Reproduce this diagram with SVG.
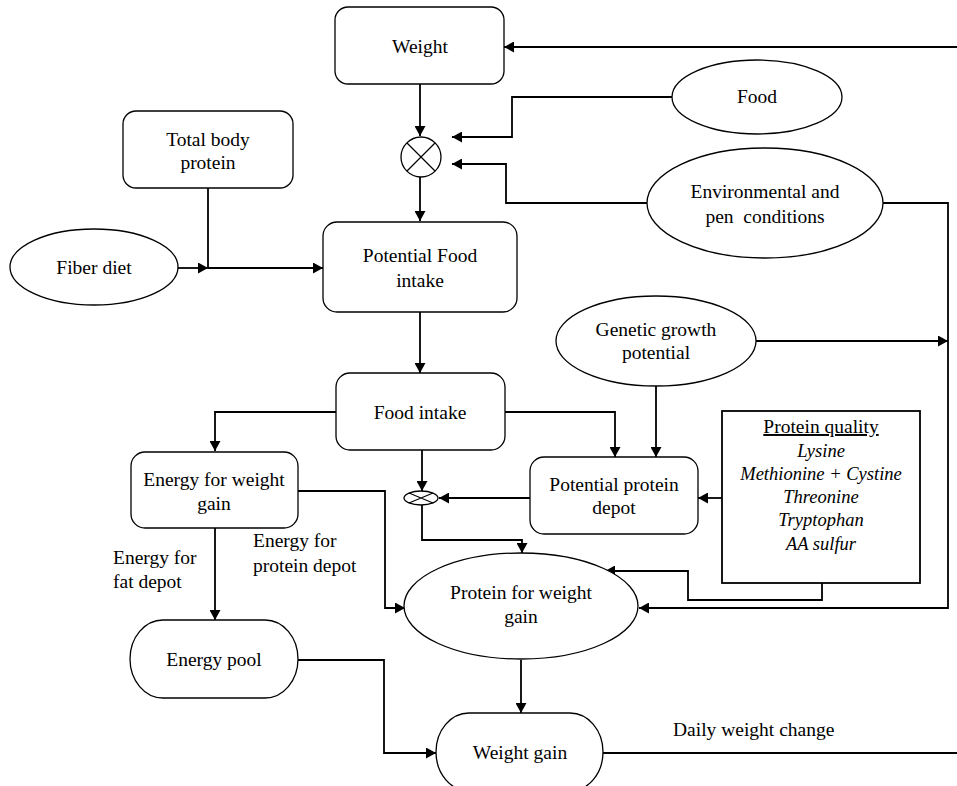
<svg xmlns="http://www.w3.org/2000/svg" width="957" height="786" viewBox="0 0 957 786">
<defs>
<marker id="ah" markerUnits="userSpaceOnUse" markerWidth="11" markerHeight="11" refX="10" refY="5.5" orient="auto">
<path d="M0,0 L10,5.5 L0,11 z" fill="#000"/>
</marker>
<style>
.n{fill:#fff;stroke:#000;stroke-width:1.3}
.c{fill:none;stroke:#000;stroke-width:1.8}
.a{marker-end:url(#ah)}
text{font-family:"Liberation Serif","Times New Roman",serif;font-size:19.5px;fill:#000}
.m{text-anchor:middle}
.i{font-style:italic;font-size:18.5px;text-anchor:middle}
</style>
</defs>
<rect width="957" height="786" fill="#fff"/>
<g id="connectors">
<path class="c a" d="M957,47 L504,47"/>
<path class="c a" d="M420,84 L420,136"/>
<path class="c a" d="M672,97 L512,97 L512,137 L452,137"/>
<path class="c a" d="M647,203 L506,203 L506,164 L452,164"/>
<path class="c a" d="M420,177 L420,221"/>
<path class="c" d="M208,188 L208,268"/>
<path class="c a" d="M178,268 L208,268"/>
<path class="c a" d="M208,268 L323,268"/>
<path class="c a" d="M420,312 L420,373"/>
<path class="c a" d="M336,412 L215,412 L215,451"/>
<path class="c a" d="M505,412 L615,412 L615,457"/>
<path class="c a" d="M422,450 L422,491"/>
<path class="c a" d="M656,385 L656,457"/>
<path class="c a" d="M756,341 L948,341"/>
<path class="c a" d="M883,203 L948,203 L948,608 L639,608"/>
<path class="c a" d="M722,498 L698,498"/>
<path class="c a" d="M822,583 L822,600 L688,600 L688,571 L605,571"/>
<path class="c a" d="M530,498 L439,498"/>
<path class="c a" d="M422,505 L422,540 L522,540 L522,553"/>
<path class="c a" d="M298,491 L385,491 L385,608 L405,608"/>
<path class="c a" d="M215,528 L215,620"/>
<path class="c a" d="M298,660 L384,660 L384,753 L436,753"/>
<path class="c a" d="M521,660 L521,713"/>
<path class="c" d="M603,753 L957,753"/>
</g>
<g id="weight"><rect class="n" x="335" y="7" width="169" height="77" rx="13"/><text class="m" x="420" y="53">Weight</text></g>
<g id="mult1"><circle class="n" cx="421" cy="157" r="20"/><path d="M407,143 L435,171 M435,143 L407,171" stroke="#000" stroke-width="1.2"/></g>
<g id="food"><ellipse class="n" cx="757" cy="97" rx="85" ry="37"/><text class="m" x="757" y="103">Food</text></g>
<g id="env"><ellipse class="n" cx="765" cy="203" rx="118" ry="55"/><text class="m" x="765" y="198">Environmental and</text><text class="m" x="765" y="223" xml:space="preserve">pen  conditions</text></g>
<g id="tbp"><rect class="n" x="123" y="111" width="170" height="77" rx="13"/><text class="m" x="208" y="146">Total body</text><text class="m" x="208" y="169">protein</text></g>
<g id="fiber"><ellipse class="n" cx="94" cy="267" rx="84" ry="38"/><text class="m" x="94" y="274">Fiber diet</text></g>
<g id="pfi"><rect class="n" x="323" y="222" width="194" height="90" rx="14"/><text class="m" x="420" y="262">Potential Food</text><text class="m" x="420" y="287">intake</text></g>
<g id="genetic"><ellipse class="n" cx="656" cy="341" rx="100" ry="45"/><text class="m" x="656" y="336">Genetic growth</text><text class="m" x="656" y="359">potential</text></g>
<g id="fi"><rect class="n" x="336" y="373" width="169" height="77" rx="14"/><text class="m" x="420" y="419">Food intake</text></g>
<g id="ewg"><rect class="n" x="131" y="452" width="167" height="76" rx="14"/><text class="m" x="214" y="486">Energy for weight</text><text class="m" x="214" y="510">gain</text></g>
<g id="mult2"><ellipse class="n" cx="421" cy="498" rx="17" ry="7"/><path d="M409,493 L433,503 M433,493 L409,503" stroke="#000" stroke-width="1.1"/></g>
<g id="ppd"><rect class="n" x="530" y="457" width="168" height="77" rx="14"/><text class="m" x="614" y="491">Potential protein</text><text class="m" x="614" y="514">depot</text></g>
<g id="pq"><rect x="722" y="411" width="198" height="172" fill="#fff" stroke="#000" stroke-width="1.8"/>
<text class="m" x="821" y="433" text-decoration="underline">Protein quality</text>
<text class="i" x="821" y="457">Lysine</text>
<text class="i" x="821" y="480">Methionine + Cystine</text>
<text class="i" x="821" y="503">Threonine</text>
<text class="i" x="821" y="526">Tryptophan</text>
<text class="i" x="821" y="550">AA sulfur</text></g>
<g id="lbl-energy-protein"><text x="253" y="547">Energy for</text><text x="253" y="572">protein depot</text></g>
<g id="lbl-energy-fat"><text x="113" y="564">Energy for</text><text x="113" y="588">fat depot</text></g>
<g id="pwg"><ellipse class="n" cx="521" cy="606" rx="117" ry="53"/><text class="m" x="521" y="599">Protein for weight</text><text class="m" x="521" y="623">gain</text></g>
<g id="pool"><rect class="n" x="130" y="620" width="168" height="78" rx="33" ry="39"/><text class="m" x="214" y="666">Energy pool</text></g>
<g id="wg"><rect class="n" x="436" y="713" width="167" height="78" rx="33" ry="39"/><text class="m" x="520" y="759">Weight gain</text></g>
<g id="lbl-daily"><text x="673" y="736">Daily weight change</text></g>
</svg>
